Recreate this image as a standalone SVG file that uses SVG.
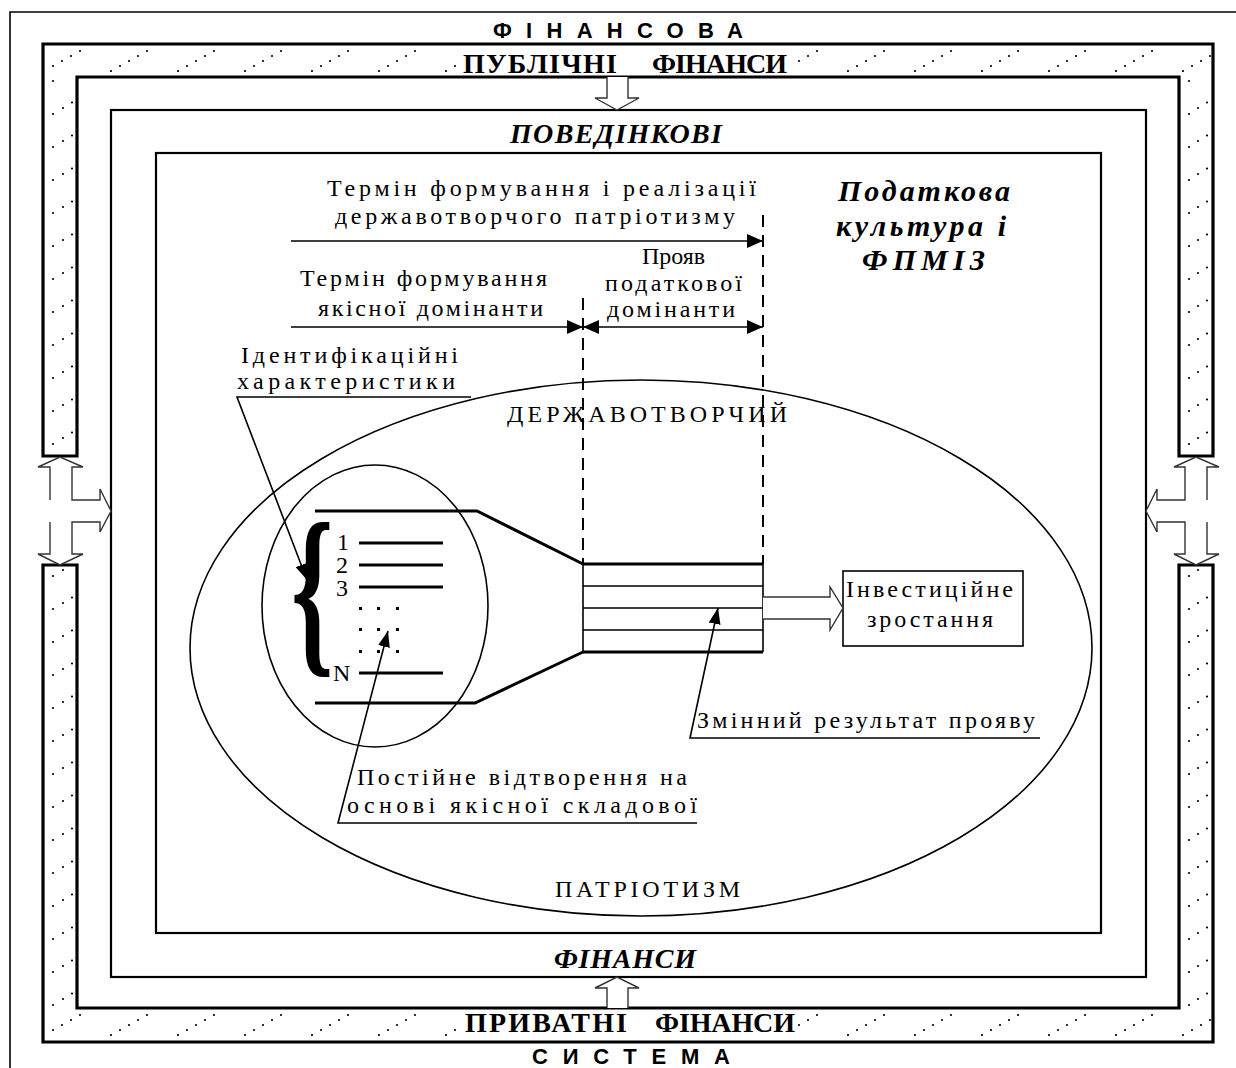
<svg xmlns="http://www.w3.org/2000/svg" width="1236" height="1068" viewBox="0 0 1236 1068">
<style>
.s{font-family:"Liberation Serif","Times New Roman",serif;font-size:24px;fill:#000}
.bi{font-family:"Liberation Serif","Times New Roman",serif;font-weight:bold;font-style:italic;fill:#000}
.bs{font-family:"Liberation Serif","Times New Roman",serif;font-weight:bold;fill:#000}
.ss{font-family:"Liberation Sans",Arial,sans-serif;font-weight:bold;font-size:22px;fill:#000}
.frame{fill:none;stroke:#000;stroke-width:2.2}
.band{fill:none;stroke:#000;stroke-width:3.2}
.hollow{fill:#fff;stroke:#333;stroke-width:1.4}
.ln{fill:none;stroke:#000;stroke-width:1.6}
.thick{fill:none;stroke:#000;stroke-width:3}
.dash{fill:none;stroke:#000;stroke-width:2;stroke-dasharray:12 8}
</style>
<defs>
<pattern id="ph" patternUnits="userSpaceOnUse" x="43" y="44" width="67" height="33">
<circle cx="1" cy="27" r="1.1"/><circle cx="10" cy="22" r="1.1"/><circle cx="19" cy="17" r="1.1"/><circle cx="28" cy="12" r="1.1"/><circle cx="37" cy="7" r="1.1"/>
</pattern>
<pattern id="phb" patternUnits="userSpaceOnUse" x="43" y="1008" width="67" height="34">
<circle cx="1" cy="27" r="1.1"/><circle cx="10" cy="22" r="1.1"/><circle cx="19" cy="17" r="1.1"/><circle cx="28" cy="12" r="1.1"/><circle cx="37" cy="7" r="1.1"/>
</pattern>
<pattern id="pv" patternUnits="userSpaceOnUse" x="43" y="101" width="34" height="33">
<circle cx="10" cy="13" r="1.1"/><circle cx="20" cy="7" r="1.1"/><circle cx="29" cy="1.5" r="1.1"/>
</pattern>
<pattern id="pvr" patternUnits="userSpaceOnUse" x="1179" y="101" width="34" height="33">
<circle cx="10" cy="13" r="1.1"/><circle cx="19" cy="7" r="1.1"/><circle cx="28" cy="1.5" r="1.1"/>
</pattern>
<marker id="ah" viewBox="0 0 16 14" refX="16" refY="7" markerWidth="16" markerHeight="14" markerUnits="userSpaceOnUse" orient="auto-start-reverse">
<path d="M0,0 L16,7 L0,14 z" fill="#000"/>
</marker>
<marker id="ap" viewBox="0 0 16 12" refX="16" refY="6" markerWidth="16" markerHeight="12" markerUnits="userSpaceOnUse" orient="auto">
<path d="M0,0 L16,6 L0,12 z" fill="#000"/>
</marker>
</defs>
<rect width="1236" height="1068" fill="#fff"/>

<g id="outer-frame">
<path d="M10,1068 V12 H1236" class="ln" stroke-width="1.8"/>
<text class="ss" x="493" y="38" textLength="250" lengthAdjust="spacing">ФІНАНСОВА</text>
<text class="ss" x="532" y="1064" textLength="198" lengthAdjust="spacing">СИСТЕМА</text>
</g>

<g id="public-finance-band">
<rect x="45" y="46" width="1166" height="30" fill="url(#ph)"/>
<rect x="45" y="77" width="31" height="378" fill="url(#pv)"/>
<rect x="1180" y="77" width="31" height="378" fill="url(#pvr)"/>
<rect x="458" y="46" width="336" height="30" fill="#fff"/>
<path d="M43,456 V44 H1213 V456 H1179 V77 H77 V456 Z" class="band"/>
<text class="bs" font-size="28" x="463" y="73" textLength="154" lengthAdjust="spacing">ПУБЛІЧНІ</text>
<text class="bs" font-size="28" x="652" y="73" textLength="135" lengthAdjust="spacing">ФІНАНСИ</text>
</g>

<g id="private-finance-band">
<rect x="45" y="1009" width="1166" height="31" fill="url(#phb)"/>
<rect x="45" y="566" width="31" height="442" fill="url(#pv)"/>
<rect x="1180" y="566" width="31" height="442" fill="url(#pvr)"/>
<rect x="460" y="1010" width="338" height="30" fill="#fff"/>
<path d="M43,565 V1042 H1213 V565 H1179 V1008 H77 V565 Z" class="band"/>
<text class="bs" font-size="28" x="465" y="1032" textLength="162" lengthAdjust="spacing">ПРИВАТНІ</text>
<text class="bs" font-size="28" x="655" y="1032" textLength="140" lengthAdjust="spacing">ФІНАНСИ</text>
</g>

<g id="behavioral-finance">
<rect x="111" y="110" width="1035" height="867" class="frame"/>
<text class="bi" font-size="28" x="510" y="143" textLength="212" lengthAdjust="spacing">ПОВЕДІНКОВІ</text>
<text class="bi" font-size="28" x="554" y="968" textLength="142" lengthAdjust="spacing">ФІНАНСИ</text>
</g>

<g id="tax-culture">
<rect x="156" y="153" width="945" height="780" class="frame"/>
<text class="bi" font-size="30" x="838" y="201" textLength="172" lengthAdjust="spacing">Податкова</text>
<text class="bi" font-size="30" x="836" y="236" textLength="170" lengthAdjust="spacing">культура і</text>
<text class="bi" font-size="30" x="862" y="270" textLength="123" lengthAdjust="spacing">ФПМІЗ</text>
</g>

<g id="patriotism-ellipse">
<ellipse cx="641" cy="648" rx="451" ry="268" class="ln" stroke-width="2"/>
<text class="s" font-size="22" x="507" y="422" textLength="280" lengthAdjust="spacing">ДЕРЖАВОТВОРЧИЙ</text>
<text class="s" font-size="22" x="555" y="897" textLength="185" lengthAdjust="spacing">ПАТРІОТИЗМ</text>
</g>

<g id="identification-ellipse">
<ellipse cx="375" cy="606" rx="113" ry="141" class="ln" stroke-width="2"/>
<text class="bs" font-size="186" transform="translate(291,652) scale(0.58,1)">{</text>
<text class="s" font-size="19" x="337" y="550">1</text>
<text class="s" font-size="19" x="336" y="573">2</text>
<text class="s" font-size="19" x="336" y="596">3</text>
<text class="s" font-size="19" x="333" y="681">N</text>
<path d="M359,543 H443 M359,565 H443 M359,587 H443 M359,673 H443" class="thick"/>
<g fill="#000">
<rect x="359" y="607" width="3" height="3"/><rect x="377" y="607" width="3" height="3"/><rect x="396" y="607" width="3" height="3"/>
<rect x="359" y="628" width="3" height="3"/><rect x="377" y="628" width="3" height="3"/><rect x="396" y="628" width="3" height="3"/>
<rect x="359" y="650" width="3" height="3"/><rect x="377" y="650" width="3" height="3"/><rect x="396" y="650" width="3" height="3"/>
</g>
</g>

<g id="funnel">
<path d="M315,511 H477 L583,564" class="thick"/>
<path d="M315,703 H475 L583,652" class="thick"/>
<path d="M583,564 H763 M583,652 H763" class="thick"/>
<path d="M583,586 H763 M583,608 H763 M583,630 H763" class="ln"/>
<path d="M583,564 V652 M763,564 V652" class="ln" stroke-width="1.2"/>
</g>

<g id="investment-growth">
<rect x="843" y="571" width="180" height="75" class="ln" stroke-width="2"/>
<text class="s" x="846" y="597" textLength="167" lengthAdjust="spacing">Інвестиційне</text>
<text class="s" x="867" y="627" textLength="126" lengthAdjust="spacing">зростання</text>
</g>

<g id="labels">
<text class="s" x="327" y="196" textLength="429" lengthAdjust="spacing">Термін формування і реалізації</text>
<text class="s" x="335" y="224" textLength="400" lengthAdjust="spacing">державотворчого патріотизму</text>
<text class="s" x="300" y="286" textLength="247" lengthAdjust="spacing">Термін формування</text>
<text class="s" x="318" y="316" textLength="225" lengthAdjust="spacing">якісної домінанти</text>
<text class="s" x="642" y="264" textLength="63" lengthAdjust="spacing">Прояв</text>
<text class="s" x="605" y="291" textLength="137" lengthAdjust="spacing">податкової</text>
<text class="s" x="607" y="317" textLength="128" lengthAdjust="spacing">домінанти</text>
<text class="s" x="241" y="363" textLength="217" lengthAdjust="spacing">Ідентифікаційні</text>
<text class="s" x="237" y="389" textLength="218" lengthAdjust="spacing">характеристики</text>
<text class="s" x="697" y="728" textLength="338" lengthAdjust="spacing">Змінний результат прояву</text>
<text class="s" x="357" y="785" textLength="330" lengthAdjust="spacing">Постійне відтворення на</text>
<text class="s" x="347" y="813" textLength="350" lengthAdjust="spacing">основі якісної складової</text>
</g>

<g id="connectors">
<path d="M583,298 V564" class="dash"/>
<path d="M763,215 V564" class="dash"/>
<path d="M291,241 H763" class="ln" stroke-width="2" marker-end="url(#ah)"/>
<path d="M291,327 H583" class="ln" stroke-width="2" marker-end="url(#ah)"/>
<path d="M583,327 H763" class="ln" stroke-width="2" marker-start="url(#ah)" marker-end="url(#ah)"/>
<path d="M471,397 H237 L307,580" class="ln" marker-end="url(#ap)"/>
<path d="M697,823 H338 L388,631" class="ln" marker-end="url(#ap)"/>
<path d="M1040,738 H690 L718,608" class="ln" marker-end="url(#ap)"/>
<polyline points="607,77 607,98 595,98 617,110 639,98 628,98 628,77" class="hollow"/>
<polyline points="607,1008 607,988 595,988 617,977 639,988 628,988 628,1008" class="hollow"/>
<polyline points="763,597 830,597 830,587 843,608 830,630 830,619 763,619" class="hollow"/>
<path d="M50,500 V467 H38 L60,457 L83,467 H72 V500 H100 V489 L111,511 L100,532 V522 H72 V554 H83 L60,565 L38,554 H50 V522" class="hollow" fill="none"/>
<path d="M1207,500 V467 H1219 L1196,457 L1174,467 H1185 V500 H1157 V489 L1146,511 L1157,532 V522 H1185 V554 H1174 L1196,565 L1219,554 H1207 V522" class="hollow" fill="none"/>
</g>
</svg>
